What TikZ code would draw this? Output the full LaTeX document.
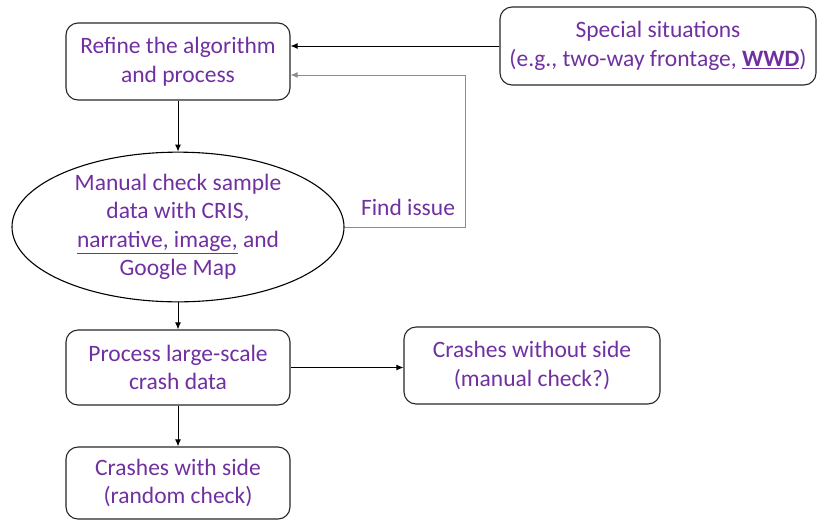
\documentclass[tikz,border=0pt]{standalone}
\usepackage{fontspec}
\setmainfont{Carlito}
\usepackage{tikz}
\usetikzlibrary{arrows.meta,shapes.geometric}
\definecolor{txtpurple}{RGB}{112,48,160}

\begin{document}
\begin{tikzpicture}[x=1pt,y=-1pt]
  \tikzstyle{box}=[draw=black!85,line width=1.1pt,rounded corners=12pt,align=center,
     text=txtpurple,font=\fontsize{23.5}{28.5}\selectfont]
  \tikzstyle{oval}=[draw=black,line width=1.1pt,ellipse,align=center,inner sep=0pt,
     text=txtpurple,font=\fontsize{23.5}{28.5}\selectfont]
  \tikzstyle{link}=[line width=1pt,-{Latex[length=7pt,width=6pt]}]
  \useasboundingbox (0,0) rectangle (818,520);
   \node[box,minimum width=224pt,minimum height=77pt] (refine) at (178,61.5)
      {Refine the algorithm\\and process};
   \node[box,minimum width=316pt,minimum height=78pt] (special) at (658,46)
      {Special situations\\(e.g., two-way frontage, \underline{\textbf{WWD}})};
   \node[oval,minimum width=332pt,minimum height=130pt] (manual) at (178,227)
      {Manual check sample\\data with CRIS,\\\underline{narrative, image,} and\\Google Map};
   \node[box,minimum width=224pt,minimum height=75pt] (process) at (178,367.5)
      {Process large-scale\\crash data};
   \node[box,minimum width=256pt,minimum height=77pt] (without) at (532,365.5)
      {Crashes without side\\(manual check?)};
   \node[box,minimum width=224pt,minimum height=72pt] (with) at (178,483)
      {Crashes with side\\(random check)};
   \node[text=txtpurple,font=\fontsize{23.5}{28.5}\selectfont] (issue) at (408,207) {Find issue};
   \coordinate (fb) at (465,75);
   \draw[link] (special.west) -- (special.west -| refine.east);
   \draw[link,draw=black!45] (manual.east) -| (fb) -- (fb -| refine.east);
   \draw[link] (refine.south) -- (manual.north);
   \draw[link] (manual.south) -- (process.north);
   \draw[link] (process.east) -- (without.west |- process.east);
   \draw[link] (process.south) -- (with.north);
\end{tikzpicture}
\end{document}
